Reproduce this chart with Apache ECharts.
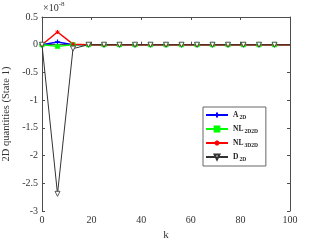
<!DOCTYPE html>
<html><head><meta charset="utf-8">
<script src="https://cdn.jsdelivr.net/npm/echarts@6/dist/echarts.min.js"></script>
<style>html,body{margin:0;padding:0;background:#fff}#c{width:321px;height:241px}</style>
</head><body><div id="c"></div>
<script>
const kValues = [0,6.25,12.5,18.75,25,31.25,37.5,43.75,50,56.25,62.5,68.75,75,81.25,87.5,93.75,100];
const A2D     = [0,0.05,0,0,0,0,0,0,0,0,0,0,0,0,0,0,0];
const NL2D2D  = [0,-0.03,0,0,0,0,0,0,0,0,0,0,0,0,0,0,0];
const NL3D2D  = [0,0.23,0.01,0,0,0,0,0,0,0,0,0,0,0,0,0,0];
const D2D     = [0,-2.69,-0.07,0,0,0,0,0,0,0,0,0,0,0,0,0,0];
const seriesNames = ['A_2D','NL_2D2D','NL_3D2D','D_2D'];
const xTicks = [0,20,40,60,80,100];
const yTicks = [-3,-2.5,-2,-1.5,-1,-0.5,0,0.5];
const scaleLabel = '-8';

const font = 'Liberation Serif';
const axisCol = '#4d4d4d';
function pairs(vals){
  return kValues.map((k,i)=> i===kValues.length-1 ? {value:[k,vals[i]], symbol:'none'} : [k,vals[i]]);
}
const plus = 'path://M0,-5 L0,5 M-5,0 L5,0';
const star = 'path://M0,-5 L0,5 M-5,0 L5,0 M-3.5,-3.5 L3.5,3.5 M-3.5,3.5 L3.5,-3.5';
const tri = 'path://M-5,-4 L5,-4 L0,5 Z';
const chart = echarts.init(document.getElementById('c'), null, {renderer:'canvas'});
chart.setOption({
  animation:false,
  grid:{left:42,right:31,top:17,bottom:30,show:false,containLabel:false,outerBoundsMode:'none'},
  xAxis:[{
    type:'value',min:0,max:100,interval:20,
    name:'k',nameLocation:'middle',nameGap:17,
    nameTextStyle:{fontFamily:font,fontSize:11,color:'#333'},
    axisLine:{lineStyle:{color:axisCol,width:1}},
    axisTick:{inside:true,length:3,lineStyle:{color:axisCol}},
    axisLabel:{fontFamily:font,fontSize:10,color:'#333',margin:4,
      formatter:v=>xTicks.includes(v)?String(v):''},
    splitLine:{show:false}
  },{
    type:'value',min:0,max:100,interval:20,position:'top',
    axisLine:{show:true,onZero:false,lineStyle:{color:axisCol,width:1}},
    axisTick:{inside:true,length:3,lineStyle:{color:axisCol}},
    axisLabel:{show:false},splitLine:{show:false}
  }],
  yAxis:[{
    type:'value',min:-3,max:0.5,interval:0.5,
    name:'2D quantities (State 1)',nameLocation:'middle',nameGap:26,
    nameTextStyle:{fontFamily:font,fontSize:10.5,color:'#333'},
    axisLine:{show:true,onZero:false,lineStyle:{color:axisCol,width:1}},
    axisTick:{show:true,inside:true,length:3,lineStyle:{color:axisCol}},
    axisLabel:{fontFamily:font,fontSize:10,color:'#333',margin:4,
      formatter:v=>{const t=yTicks.find(y=>Math.abs(y-v)<1e-9);return t===undefined?'':String(t);}},
    splitLine:{show:false}
  },{
    type:'value',min:-3,max:0.5,interval:0.5,position:'right',
    axisLine:{show:true,onZero:false,lineStyle:{color:axisCol,width:1}},
    axisTick:{show:true,inside:true,length:3,lineStyle:{color:axisCol}},
    axisLabel:{show:false},splitLine:{show:false}
  }],
  legend:{
    orient:'vertical',left:203,top:107,itemGap:4,
    itemWidth:22,itemHeight:6,
    backgroundColor:'#fff',borderColor:'#666',borderWidth:1,borderRadius:0,
    padding:[4,8,3,2],
    data:seriesNames,
    formatter:n=>{const p=n.split('_');return '{m|'+p[0]+'}{s|'+p[1]+'}';},
    textStyle:{rich:{
      m:{fontFamily:font,fontSize:7.5,fontWeight:'bold',color:'#222'},
      s:{fontFamily:font,fontSize:5.5,fontWeight:'bold',color:'#222',padding:[6,0,0,1]}
    }}
  },
  graphic:[{
    type:'text',left:43,top:1,
    style:{text:'{a|×10}{b|'+scaleLabel+'}',rich:{
      a:{fontFamily:font,fontSize:10,fill:'#333'},
      b:{fontFamily:font,fontSize:7,fill:'#333',padding:[0,0,7,0]}
    }}
  }],
  series:[
    {name:'A_2D',type:'line',data:pairs(A2D),symbol:plus,symbolSize:5,
      lineStyle:{color:'#0000ff',width:1.5},
      itemStyle:{color:'#0000ff',borderColor:'#0000ff',borderWidth:1.2}},
    {name:'NL_2D2D',type:'line',data:pairs(NL2D2D),symbol:'rect',symbolSize:4.5,
      lineStyle:{color:'#00ff00',width:1.5},
      itemStyle:{color:'#00ff00',borderColor:'#00ff00',borderWidth:0.5}},
    {name:'NL_3D2D',type:'line',data:pairs(NL3D2D),symbol:star,symbolSize:4,
      lineStyle:{color:'#ff0000',width:1.5},
      itemStyle:{color:'#ff0000',borderColor:'#ff0000',borderWidth:1}},
    {name:'D_2D',type:'line',data:pairs(D2D),symbol:tri,symbolSize:5,
      lineStyle:{color:'#333333',width:1},
      itemStyle:{color:'#ffffff',borderColor:'#333333',borderWidth:0.8}}
  ]
});
</script></body></html>
